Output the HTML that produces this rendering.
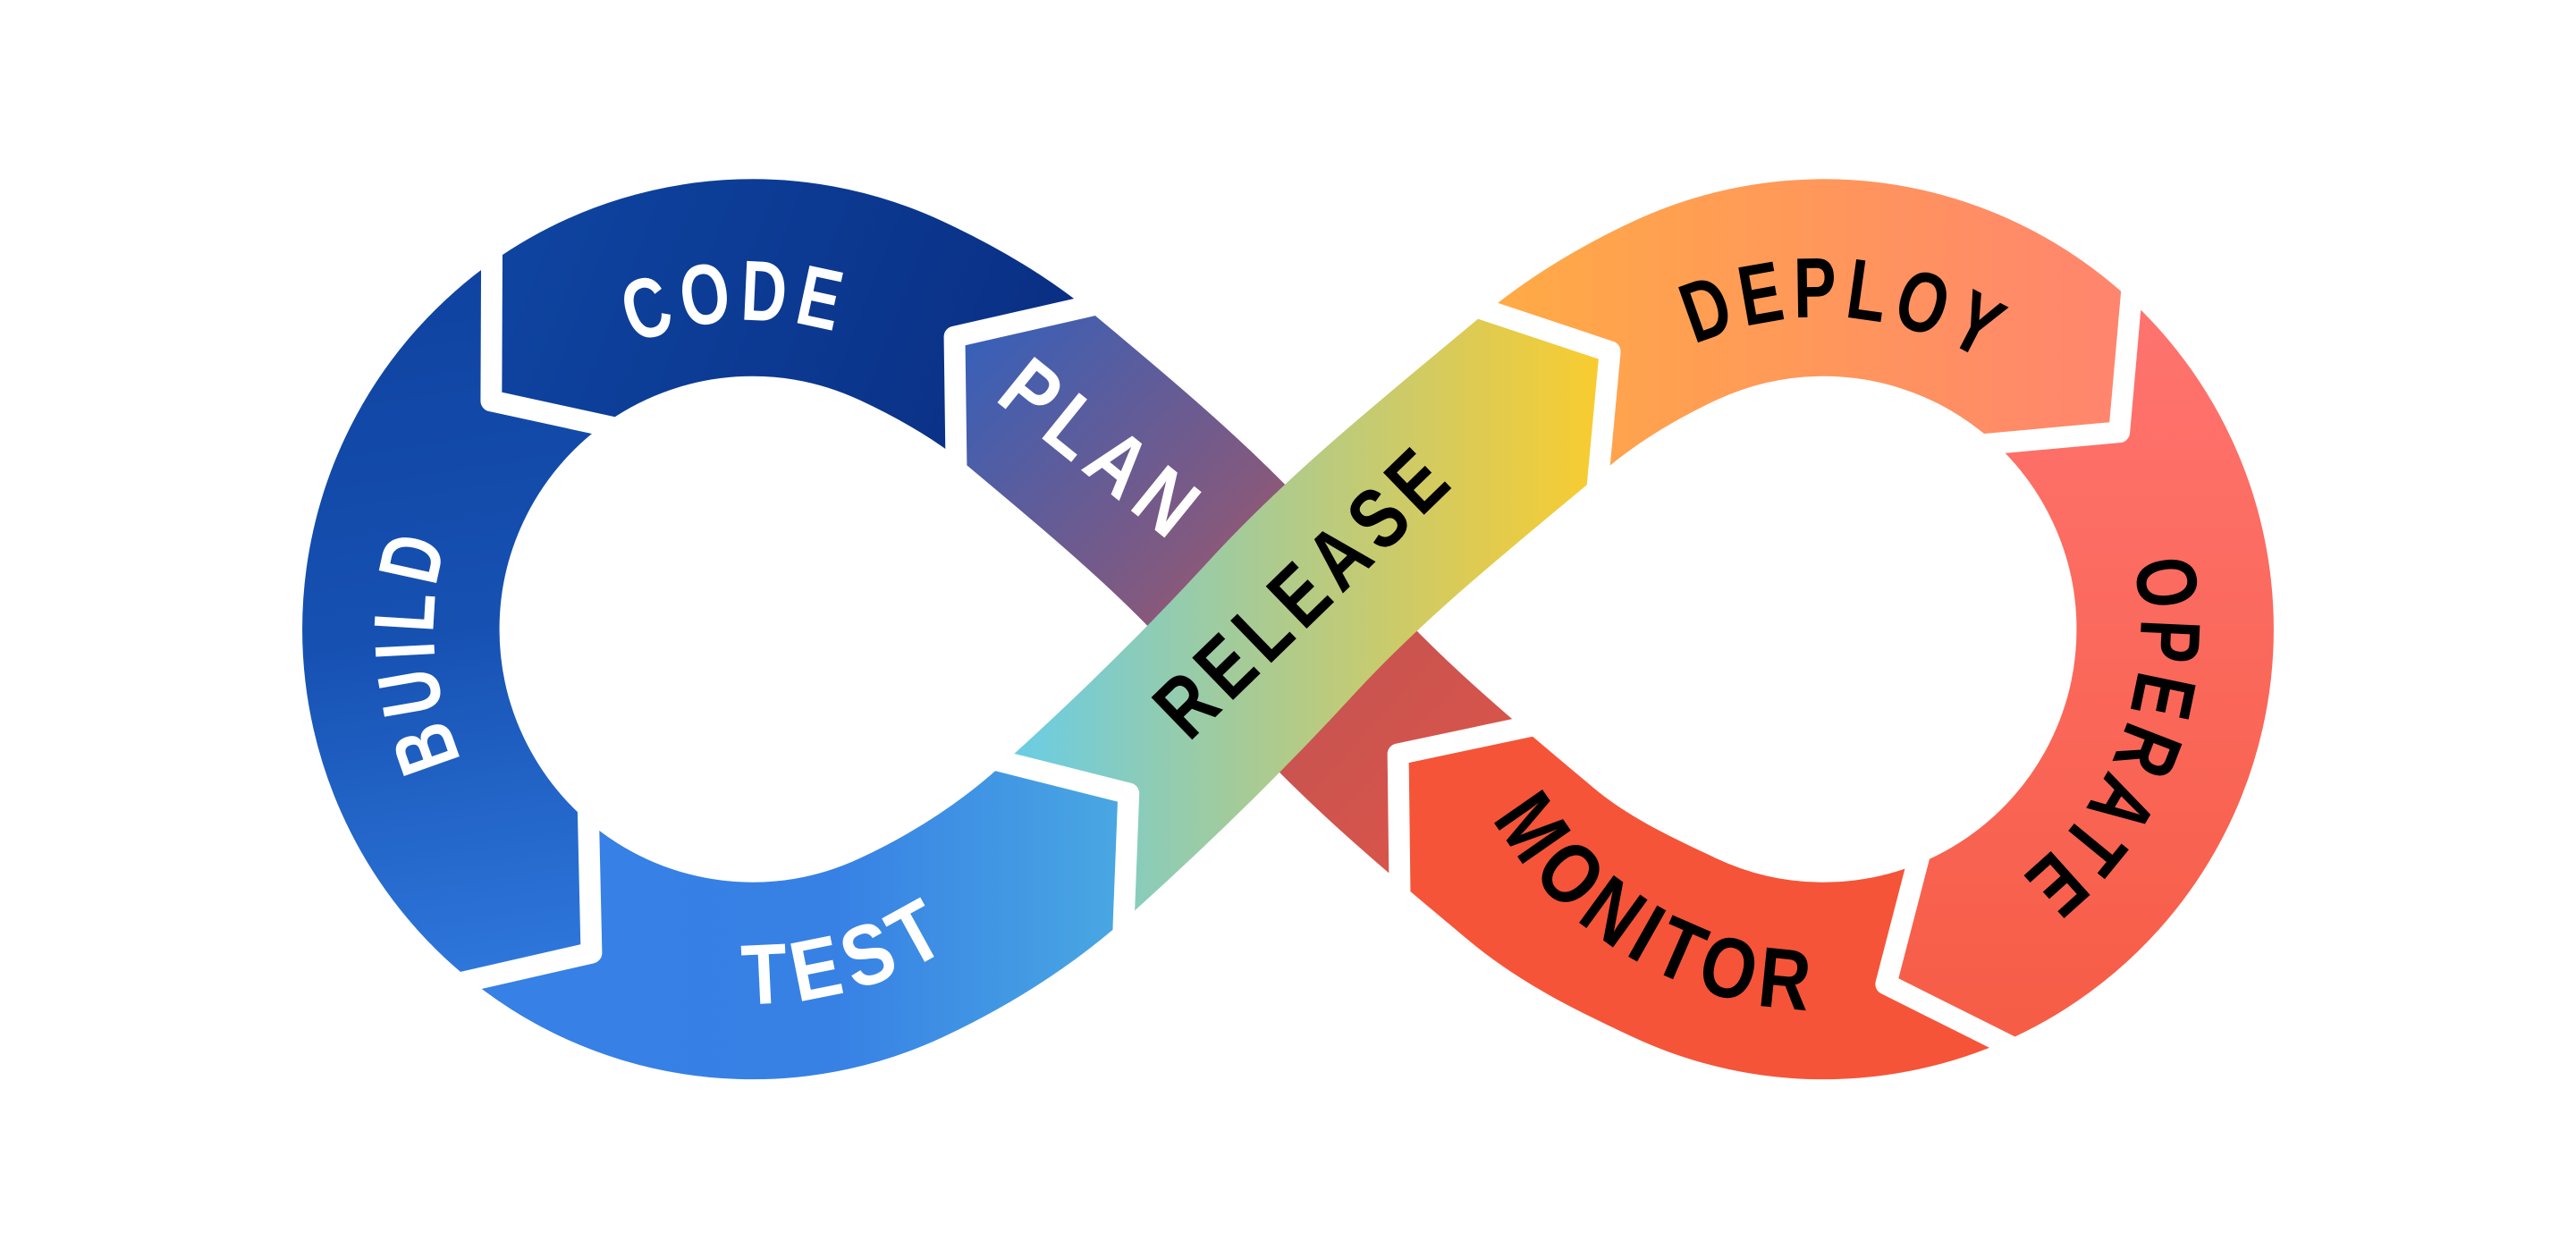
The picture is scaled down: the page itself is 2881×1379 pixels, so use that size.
<!DOCTYPE html>
<html><head><meta charset="utf-8"><style>
html,body{margin:0;padding:0;background:#fff;}
svg{display:block;}
</style></head><body>
<svg xmlns="http://www.w3.org/2000/svg" width="2881" height="1379" viewBox="0 0 1568 750.5">
<defs>
<linearGradient id="gCode" gradientUnits="userSpaceOnUse" x1="300" y1="130" x2="690" y2="280"><stop offset="0" stop-color="#0e45a2"/><stop offset="1" stop-color="#092b7e"/></linearGradient>
<linearGradient id="gBuild" gradientUnits="userSpaceOnUse" x1="260" y1="160" x2="330" y2="600"><stop offset="0" stop-color="#0f42a0"/><stop offset="0.5" stop-color="#1651b2"/><stop offset="1" stop-color="#3079de"/></linearGradient>
<linearGradient id="gTest" gradientUnits="userSpaceOnUse" x1="290" y1="0" x2="690" y2="0"><stop offset="0" stop-color="#3680e6"/><stop offset="0.55" stop-color="#3781e5"/><stop offset="1" stop-color="#4aa9e2"/></linearGradient>
<linearGradient id="gPlan" gradientUnits="userSpaceOnUse" x1="585" y1="205" x2="930" y2="520"><stop offset="0" stop-color="#3560ba"/><stop offset="0.42" stop-color="#85597d"/><stop offset="0.62" stop-color="#c55452"/><stop offset="1" stop-color="#e05546"/></linearGradient>
<linearGradient id="gRel" gradientUnits="userSpaceOnUse" x1="615" y1="0" x2="985" y2="0"><stop offset="0" stop-color="#68cde6"/><stop offset="0.4" stop-color="#a8cb94"/><stop offset="0.72" stop-color="#d8cb5a"/><stop offset="1" stop-color="#fdcc2a"/></linearGradient>
<linearGradient id="gDeploy" gradientUnits="userSpaceOnUse" x1="905" y1="0" x2="1300" y2="0"><stop offset="0" stop-color="#ffab45"/><stop offset="1" stop-color="#ff846f"/></linearGradient>
<linearGradient id="gOperate" gradientUnits="userSpaceOnUse" x1="0" y1="180" x2="0" y2="640"><stop offset="0" stop-color="#ff7470"/><stop offset="1" stop-color="#f65c45"/></linearGradient>

<clipPath id="cPlan"><polygon points="690,100 690,180 660,187 581,205 582,279 582.5,320 582.5,650 852.5,650 852.5,575 852,540 851,459 923,444 955,437 970,100"/></clipPath>
<clipPath id="cCode"><polygon points="299.5,40 299.5,120 299,244 400,266 582.5,320 582,279 581,205 660,187 690,180 690,40"/></clipPath>
<clipPath id="cBuild"><polygon points="299.5,40 299.5,120 299,244 400,266 357.5,470 358,500 360,580 255,604 60,720 60,40"/></clipPath>
<clipPath id="cTest"><polygon points="357.5,470 358,500 360,580 255,604 255,730 683,730 683,640 684,560 687,483 612,464 580,456"/></clipPath>
<clipPath id="cRel"><polygon points="560,440 580,456 612,464 687,483 684,560 683,640 1000,640 1000,330 970,320 973,289 980,214 906,189 878,180 860,100 560,100"/></clipPath>
<clipPath id="cDeploy"><polygon points="860,40 878,180 906,189 980,214 973,289 970,320 1180,273 1214,270 1290,263 1297,183 1300,150 1300,40"/></clipPath>
<clipPath id="cOperate"><polygon points="1180,273 1214,270 1290,263 1297,183 1300,150 1300,40 1520,40 1520,730 1250,730 1250,650 1218,634 1148,599 1167,525 1175,495"/></clipPath>
<clipPath id="cMonitor"><polygon points="955,437 923,444 851,459 852,540 852.5,575 852.5,730 1250,730 1250,650 1218,634 1148,599 1167,525 1175,495"/></clipPath>

<path id="tCode" d="M 270,383 A 188 188 0 0 1 646,383"/>
<path id="tBuild" d="M 458,577 A 194 194 0 0 1 458,189"/>
<path id="tTest" d="M 230,383 A 228 228 0 0 0 686,383"/>
<path id="tPlan" d="M 502.2,160 L 813,411.6"/>
<path id="tRel" d="M 624.2,548.5 L 983.2,200.5"/>
<path id="tDeploy" d="M 920,383 A 190 190 0 0 1 1300,383"/>
<path id="tOperate" d="M 1110,190 A 193 193 0 0 1 1110,576"/>
<path id="tMonitor" d="M 878,383 A 232 232 0 0 0 1342,383"/>
</defs>

<!-- diagonal (PLAN) band, underneath -->
<path clip-path="url(#cPlan)" fill="none" stroke="url(#gPlan)" stroke-width="120" d="M 495.16,172.25 A 214 214 0 0 1 548.44,189.05 C 576.54,202.15 604.25,218.07 628,238 C 681.62,283 735.95,327.6 780,382 C 824.05,436.4 878.38,481 932,526 C 958.05,547.85 988.75,562.58 1019.56,576.95 A 214 214 0 0 0 1072.84,593.75"/>

<!-- loop segments -->
<g fill="none" stroke-width="120">
<path clip-path="url(#cCode)" stroke="url(#gCode)" d="M 548.44,189.05 C 576.54,202.15 604.25,218.07 628,238 C 681.62,283 735.95,327.6 780,382 C 824.05,436.4 878.38,481 932,526 C 958.05,547.85 988.75,562.58 1019.56,576.95 A 214 214 0 1 0 1019.56,189.05 C 991.46,202.15 963.25,219.07 939.5,239 C 885.11,284.65 828,329.67 780,382 C 738.09,427.69 694.07,470.52 648,512 C 618.28,538.76 584.69,560.05 548.44,576.95 A 214 214 0 1 1 548.44,189.05 Z"/>
<path clip-path="url(#cBuild)" stroke="url(#gBuild)" d="M 548.44,189.05 C 576.54,202.15 604.25,218.07 628,238 C 681.62,283 735.95,327.6 780,382 C 824.05,436.4 878.38,481 932,526 C 958.05,547.85 988.75,562.58 1019.56,576.95 A 214 214 0 1 0 1019.56,189.05 C 991.46,202.15 963.25,219.07 939.5,239 C 885.11,284.65 828,329.67 780,382 C 738.09,427.69 694.07,470.52 648,512 C 618.28,538.76 584.69,560.05 548.44,576.95 A 214 214 0 1 1 548.44,189.05 Z"/>
<path clip-path="url(#cTest)" stroke="url(#gTest)" d="M 548.44,189.05 C 576.54,202.15 604.25,218.07 628,238 C 681.62,283 735.95,327.6 780,382 C 824.05,436.4 878.38,481 932,526 C 958.05,547.85 988.75,562.58 1019.56,576.95 A 214 214 0 1 0 1019.56,189.05 C 991.46,202.15 963.25,219.07 939.5,239 C 885.11,284.65 828,329.67 780,382 C 738.09,427.69 694.07,470.52 648,512 C 618.28,538.76 584.69,560.05 548.44,576.95 A 214 214 0 1 1 548.44,189.05 Z"/>
<path clip-path="url(#cDeploy)" stroke="url(#gDeploy)" d="M 548.44,189.05 C 576.54,202.15 604.25,218.07 628,238 C 681.62,283 735.95,327.6 780,382 C 824.05,436.4 878.38,481 932,526 C 958.05,547.85 988.75,562.58 1019.56,576.95 A 214 214 0 1 0 1019.56,189.05 C 991.46,202.15 963.25,219.07 939.5,239 C 885.11,284.65 828,329.67 780,382 C 738.09,427.69 694.07,470.52 648,512 C 618.28,538.76 584.69,560.05 548.44,576.95 A 214 214 0 1 1 548.44,189.05 Z"/>
<path clip-path="url(#cOperate)" stroke="url(#gOperate)" d="M 548.44,189.05 C 576.54,202.15 604.25,218.07 628,238 C 681.62,283 735.95,327.6 780,382 C 824.05,436.4 878.38,481 932,526 C 958.05,547.85 988.75,562.58 1019.56,576.95 A 214 214 0 1 0 1019.56,189.05 C 991.46,202.15 963.25,219.07 939.5,239 C 885.11,284.65 828,329.67 780,382 C 738.09,427.69 694.07,470.52 648,512 C 618.28,538.76 584.69,560.05 548.44,576.95 A 214 214 0 1 1 548.44,189.05 Z"/>
<path clip-path="url(#cMonitor)" stroke="#f55438" d="M 548.44,189.05 C 576.54,202.15 604.25,218.07 628,238 C 681.62,283 735.95,327.6 780,382 C 824.05,436.4 878.38,481 932,526 C 958.05,547.85 988.75,562.58 1019.56,576.95 A 214 214 0 1 0 1019.56,189.05 C 991.46,202.15 963.25,219.07 939.5,239 C 885.11,284.65 828,329.67 780,382 C 738.09,427.69 694.07,470.52 648,512 C 618.28,538.76 584.69,560.05 548.44,576.95 A 214 214 0 1 1 548.44,189.05 Z"/>
</g>

<!-- RELEASE band on top -->
<path clip-path="url(#cRel)" fill="none" stroke="url(#gRel)" stroke-width="120" d="M 1072.84,172.25 A 214 214 0 0 0 1019.56,189.05 C 991.46,202.15 963.25,219.07 939.5,239 C 885.11,284.65 828,329.67 780,382 C 738.09,427.69 694.07,470.52 648,512 C 618.28,538.76 584.69,560.05 548.44,576.95 A 214 214 0 0 1 495.16,593.75"/>

<!-- white chevron separators -->
<g fill="none" stroke="#ffffff" stroke-width="13" stroke-linejoin="round">
<polyline points="690,180 660,187 581,205 582,279 582.5,312"/>
<polyline points="299.5,125 299,244 400,266"/>
<polyline points="357.5,470 360,580 255,604"/>
<polyline points="580,456 687,483 684,560 683,592"/>
<polyline points="878,180 980,214 973,289 970,320"/>
<polyline points="1300,150 1290,263 1180,273"/>
<polyline points="1175,495 1148,599 1250,650"/>
<polyline points="955,437 851,459 852,540 852.5,575"/>
</g>

<!-- labels -->
<g font-family="'Liberation Sans', Arial, sans-serif" font-weight="700" font-size="52" text-anchor="middle" letter-spacing="6">
<text fill="#ffffff"><textPath href="#tCode" startOffset="285.5" textLength="129" lengthAdjust="spacingAndGlyphs">CODE</textPath></text>
<text fill="#ffffff"><textPath href="#tBuild" startOffset="292.5" textLength="140" lengthAdjust="spacingAndGlyphs">BUILD</textPath></text>
<text fill="#ffffff"><textPath href="#tTest" startOffset="420.8" textLength="137" lengthAdjust="spacingAndGlyphs">TEST</textPath></text>
<text fill="#ffffff"><textPath href="#tPlan" startOffset="203" textLength="142" lengthAdjust="spacingAndGlyphs">PLAN</textPath></text>
<text fill="#000000"><textPath href="#tRel" startOffset="253" textLength="229" lengthAdjust="spacingAndGlyphs">RELEASE</textPath></text>
<text fill="#000000"><textPath href="#tDeploy" startOffset="310.7" textLength="187" lengthAdjust="spacingAndGlyphs">DEPLOY</textPath></text>
<text fill="#000000"><textPath href="#tOperate" startOffset="370.8" textLength="219" lengthAdjust="spacingAndGlyphs">OPERATE</textPath></text>
<text fill="#000000"><textPath href="#tMonitor" startOffset="239.9" textLength="239" lengthAdjust="spacingAndGlyphs">MONITOR</textPath></text>
</g>
</svg>
</body></html>
